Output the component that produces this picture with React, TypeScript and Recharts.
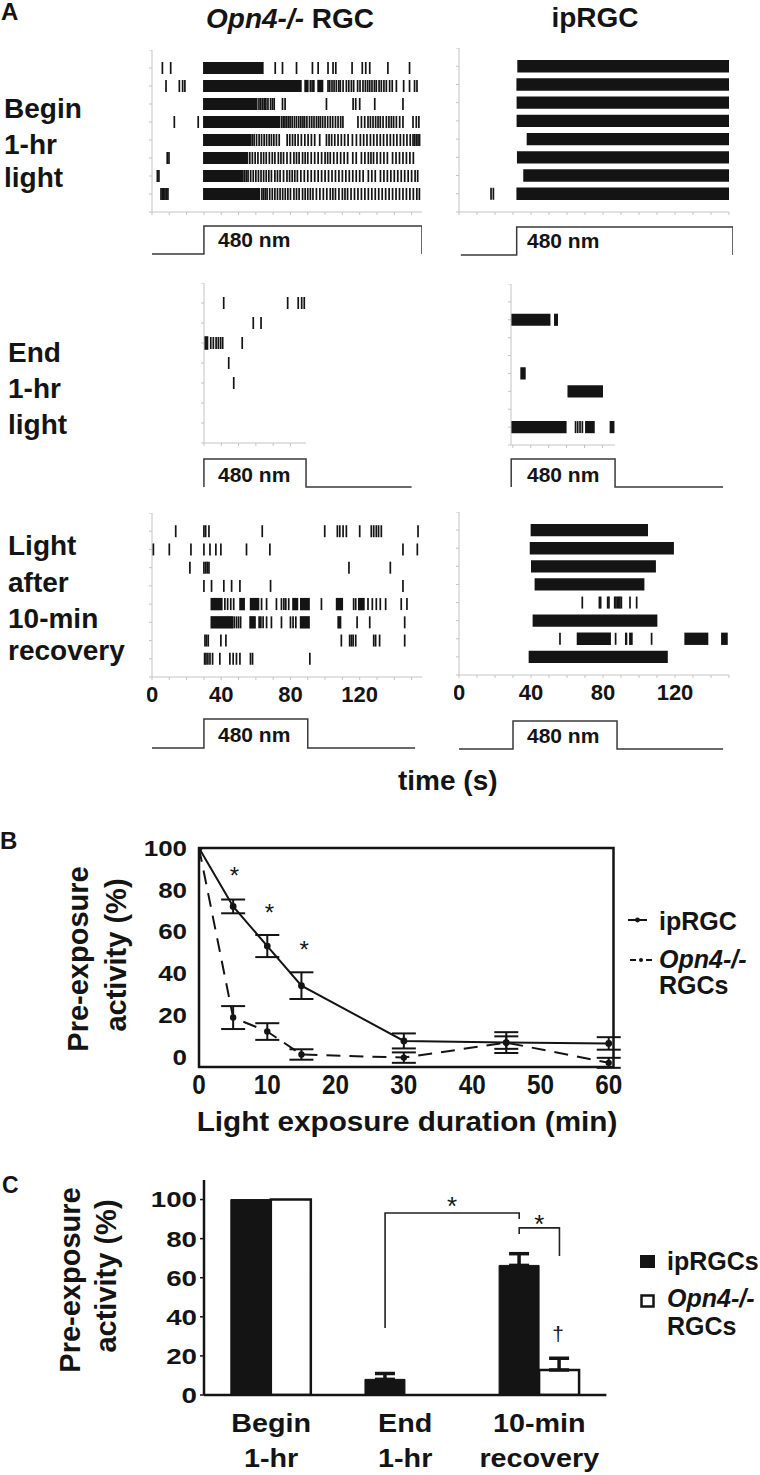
import React from 'react';
import {
  ScatterChart,
  Scatter,
  XAxis,
  YAxis,
  ReferenceArea,
  LineChart,
  Line,
  ComposedChart,
  Bar,
  ErrorBar,
  ReferenceDot,
} from 'recharts';

type Burst = [number, number];

const WIDE = "'Liberation Sans', Arial, Helvetica, sans-serif";
const INK = '#141414';

// ---------- Panel A: spike rasters (seconds), one list per trial row ----------
const leftTicks = [0, 10, 20, 30, 40, 50, 60, 70, 80, 90, 100, 110, 120, 130, 140, 150];
const midTicks = [30, 40, 50, 60, 70, 80];
const timeLabels = [0, 40, 80, 120];

// Opn4-/- RGC, begin of 1-hr light
const opnBeginBursts: Burst[][] = [
  [[29.5, 64.5]],
  [[29.5, 86.5], [88, 90.5], [95.5, 99]],
  [[29.5, 61]],
  [[29.5, 74]],
  [[29.5, 57.4]],
  [[29.5, 55.6]],
  [[29.5, 52]],
  [[29.5, 62.5]],
];
const opnBeginSpikes: number[][] = [
  [6, 10.8, 71.2, 75.4, 83.5, 92.7, 96, 101.7, 104.6, 106.2, 115.6, 121.5, 123.5, 125.8, 136.3, 148.8],
  [8.1, 15.8, 17.7, 19, 91.5, 92.5, 93.5, 101.7, 102.7, 104, 105.2, 106.5, 107.9, 108.8, 110.4, 112.3, 113.7,
    115.2, 116.5, 118.8, 120.2, 121.9, 123.3, 124.6, 125.8, 127.1, 128.5, 129.6, 131.2, 132.5, 134, 135.4, 137.3,
    138.8, 141.2, 145.4, 148.8, 151.7, 153.1],
  [61.8, 62.8, 63.8, 64.8, 65.8, 67, 68.5, 69.6, 70.6, 75.4, 76.9, 100.8, 116.2, 117.7, 120, 128.7, 145],
  [12.9, 26.7, 74.8, 75.8, 76.8, 77.8, 78.8, 79.8, 81, 82.3, 83.5, 84.8, 86, 87.2, 88.2, 89.5, 91, 92.3, 93.6, 95,
    96.2, 97.3, 98.6, 100, 101.5, 103, 104.4, 106, 107.5, 109, 110.3, 119, 121, 122.9, 124.8, 126.2, 127.7, 129.2,
    130.6, 131.9, 133.5, 135.4, 136.9, 138.3, 139.6, 141.2, 143.1, 145, 150.8, 152.7, 154.2],
  [57.9, 59, 60.4, 61.9, 63.3, 64.8, 66.2, 67.7, 69, 70.4, 71.9, 73.5, 78.1, 79.6, 81.2, 82.7, 84.4, 86.3, 88.3,
    90.2, 92.1, 94, 96.9, 100.8, 102.3, 103.8, 105.6, 107.5, 109.4, 111.3, 113.3, 115.8, 118.1, 120.4, 122.3, 124.2,
    126.2, 128.1, 130, 131.9, 133.8, 135.8, 137.7, 139.6, 141.5, 143.5, 145.4, 147.3, 149.2, 150.8, 151.7, 152.7,
    153.7, 154.6],
  [8.8, 9.8, 56.5, 58, 59.6, 61.2, 63, 64.5, 66, 67.8, 69.5, 71, 73, 74.5, 76, 78, 80, 82, 83.5, 85, 87, 88.5, 90,
    92, 94, 96, 98, 100, 101.5, 103, 105, 107, 109, 111, 113, 116, 118, 121, 123, 125, 126.5, 128, 130, 132, 134,
    136, 139, 141, 143, 145, 147, 149, 151],
  [3.1, 4, 52.5, 53.5, 54.5, 55.5, 57, 58.5, 60, 61.5, 63, 64.5, 66, 67.5, 69, 71, 72.5, 74, 76, 78, 79.5, 81, 82.5,
    84, 86, 88, 90, 92, 94, 96, 98, 100, 102, 104, 106, 108, 110, 112, 114, 116, 118, 120, 122, 125, 127, 129, 132,
    134, 136, 138, 140, 142, 144, 146, 148, 150, 152, 153.5],
  [5.2, 6, 6.8, 7.5, 8.3, 9.2, 63.5, 64.5, 65.5, 66.5, 68, 69.5, 71, 72.5, 74, 75.5, 77, 78.5, 80, 82, 83.5, 85, 87,
    88.5, 90, 91.5, 93, 95, 97, 99, 101, 103, 104.5, 106, 108, 110, 111.5, 113, 115, 117, 119, 121, 123, 125, 127,
    129, 131, 133, 135, 137, 139, 141, 143, 145, 147, 149, 151, 153, 154.5],
];

// ipRGC, begin of 1-hr light
const ipBeginBursts: Burst[][] = [
  [[32.4, 150]], [[31.9, 150]], [[32, 150]], [[32, 150]],
  [[37.6, 150]], [[32.2, 150]], [[35.7, 150]], [[31.9, 150]],
];
const ipBeginSpikes: number[][] = [[], [], [], [], [], [], [], [17.8, 19.1]];

// Opn4-/- RGC, end of 1-hr light
const opnEndBursts: Burst[][] = [[], [], [[30, 32.5]], [], [], [], [], []];
const opnEndSpikes: number[][] = [
  [41.4, 78.4, 84.5, 86.5, 88],
  [58.5, 63],
  [33.9, 35.4, 37, 38.3, 39.6, 40.8, 52.1],
  [44.3],
  [47.2],
  [], [], [],
];

// ipRGC, end of 1-hr light
const ipEndBursts: Burst[][] = [
  [],
  [[29, 51], [53, 55.2]],
  [], [],
  [[34.2, 37.2]],
  [[60.5, 80.3]],
  [],
  [[29, 60], [70.3, 75.7], [84, 86.7]],
];
const ipEndSpikes: number[][] = [[], [], [], [], [], [], [], [65, 66.2, 67.5, 68.8]];

// Opn4-/- RGC, light after 10-min recovery
const opnRecBursts: Burst[][] = [
  [], [], [], [],
  [[33.8, 40.8], [50.4, 53.7], [56.5, 62], [81, 84.5], [85.5, 91.2], [106.2, 110.4], [119, 122.9]],
  [[33.8, 46.9], [56.2, 60], [85.4, 91.2], [107.1, 109.4]],
  [], [],
];
const opnRecSpikes: number[][] = [
  [13.7, 30, 31, 32.9, 63.7, 99.8, 107.1, 108.5, 110.4, 112.3, 120, 126.7, 128.1, 129.6, 130.9, 132.5, 153.7],
  [0.8, 10, 22.5, 30, 33.5, 36.9, 39.8, 54.6, 68.1, 145, 153.3],
  [21.9, 30, 31, 31.9, 32.9, 113.8, 137.7],
  [30, 34.4, 41.5, 46, 50.8, 68.5, 145],
  [42.1, 43.7, 45.5, 47.2, 63.3, 66.2, 71.9, 74.8, 76.2, 77.3, 79, 97.9, 116.5, 117.7, 124.8, 127.3, 129.6, 131.9,
    135, 144, 147.3],
  [47.5, 48.8, 50, 51.2, 61.9, 62.9, 64.2, 66.2, 69, 74.8, 80, 81.5, 83.1, 118.5, 125.8, 146],
  [30.6, 31.5, 32.5, 39.8, 42.7, 109.4, 114.2, 115.2, 116.2, 117.7, 128.1, 129.2, 131.5, 146],
  [30.4, 31.2, 32.3, 33.5, 35, 39.2, 45, 46.9, 48.8, 50.8, 56.9, 58.1, 91.2],
];

// ipRGC, light after 10-min recovery
const ipRecBursts: Burst[][] = [
  [[39.8, 105]],
  [[39.3, 119.4]],
  [[40, 109.4]],
  [[42, 103]],
  [],
  [[40.9, 110.2]],
  [[65.4, 84.4], [92.2, 93.5], [94.5, 96.5], [125.2, 138.5], [145.6, 149.3]],
  [[38.7, 116]],
];
const ipRecSpikes: number[][] = [
  [], [], [], [],
  [68.5, 78, 78.7, 82.6, 83.3, 86.5, 87.2, 88, 88.7, 89.4, 90.2, 95, 98.7],
  [],
  [56.1, 87, 107],
  [],
];

// stimulus (480 nm) traces: times (s) and levels (0 dark, 1 light)
const stimLevelsBegin = [0, 0, 1, 1, 0];
const stimTimesBeginL = [0, 30, 30, 156, 156];
const stimTimesBeginR = [1, 32, 32, 152, 152];
const stimLevelsEnd = [0, 1, 1, 0, 0];
const stimTimesEndL = [30, 30, 89, 89, 150];
const stimTimesEndR = [29, 29, 86.7, 86.7, 146.7];
const stimLevelsRec = [0, 0, 1, 1, 0, 0];
const stimTimesRecL = [0, 30, 30, 90, 90, 152];
const stimTimesRecR = [0, 30, 30, 87.8, 87.8, 146.7];

// ---------- Panel B ----------
const bMinutes = [0, 5, 10, 15, 30, 45, 60];
const bIpRGC = [100, 72, 53, 34, 7.5, 6.7, 6.3];
const bIpRGCErr = [null, 3.3, 5.3, 6.4, 3.6, 3, 3];
const bOpn4 = [100, 18.7, 12, 1, -0.5, 6.7, -3];
const bOpn4Err = [null, 5.5, 4, 2.5, 2.5, 5, 2.4];
const bXTicks = [0, 10, 20, 30, 40, 50, 60];
const bYTicks = [0, 20, 40, 60, 80, 100];
const bStars = [
  { m: 5.2, v: 89.5 },
  { m: 10.3, v: 71.8 },
  { m: 15.4, v: 54 },
];

// ---------- Panel C ----------
const cCategories = ['Begin 1-hr', 'End 1-hr', '10-min recovery'];
const cIpRGCs = [100, 8, 66.3];
const cIpRGCsErr = [null, 3, 6];
const cOpn4 = [100, 0, 12.8];
const cOpn4Err = [null, null, 6];
const cYTicks = [0, 20, 40, 60, 80, 100];
// significance brackets: [category, series] -> [category, series], levels in %
const cBrackets = [
  { from: [1, 0], to: [2, 0], yFrom: 34.3, yTop: 93.1, yTo: 90.1 },
  { from: [2, 0], to: [2, 1], yFrom: 82.4, yTop: 85.5, yTo: 71.1 },
];
const cMarks = [
  { x: 1.85, y: 99.8, s: '*' },
  { x: 2.5, y: 90.6, s: '*' },
  { x: 2.64, y: 30.7, s: '†' },
];
const CAT_GAP = 0.2;
const barCenter = (cat: number, series: number) => cat + CAT_GAP + ((1 - 2 * CAT_GAP) / 2) * (series + 0.5);

// ---------- components ----------
type RasterProps = {
  x: number;
  y: number;
  w: number;
  h: number;
  domain: [number, number];
  rows: number;
  spikes: number[][];
  bursts: Burst[][];
  ticks: number[];
  labels?: number[];
};

function Raster({ x, y, w, h, domain, rows, spikes, bursts, ticks, labels }: RasterProps) {
  const pts = spikes.flatMap((row, i) => row.map((t) => ({ t, row: i + 1 })));
  const yTicks = Array.from({ length: rows + 1 }, (_, i) => i);
  const axisH = labels ? 34 : 6;
  const yW = 5;
  return (
    <div style={{ position: 'absolute', left: x - yW, top: y }}>
      <ScatterChart width={w + yW + 3} height={h + axisH} margin={{ top: 0, right: 3, bottom: 0, left: 0 }}>
        <XAxis
          type="number"
          dataKey="t"
          domain={domain}
          ticks={ticks}
          interval={0}
          allowDataOverflow
          height={axisH}
          stroke="#c4c4c4"
          tickSize={3}
          tickMargin={6}
          tickFormatter={(v) => (labels && labels.includes(v) ? String(v) : '')}
          tick={{ fill: INK, fontSize: 22, fontWeight: 900, fontFamily: WIDE }}
        />
        <YAxis
          type="number"
          dataKey="row"
          domain={[0, rows]}
          reversed
          ticks={yTicks}
          interval={0}
          allowDataOverflow
          width={yW}
          stroke="#c4c4c4"
          tickSize={3}
          tickFormatter={() => ''}
        />
        {bursts.flatMap((row, i) =>
          row.map(([a, b], j) => (
            <ReferenceArea
              key={`${i}-${j}`}
              x1={a}
              x2={b}
              y1={i + 1 - 0.34}
              y2={i + 1 + 0.34}
              fill={INK}
              fillOpacity={1}
              stroke="none"
            />
          ))
        )}
        <Scatter
          data={pts}
          isAnimationActive={false}
          shape={(p: any) => (
            <line x1={p.cx} x2={p.cx} y1={p.cy - 6} y2={p.cy + 6} stroke="#141414" strokeWidth={1.7} />
          )}
        />
      </ScatterChart>
    </div>
  );
}

type StimProps = { x: number; w: number; hi: number; lo: number; domain: [number, number]; times: number[]; levels: number[] };

function Stim({ x, w, hi, lo, domain, times, levels }: StimProps) {
  const data = times.map((t, i) => ({ t, v: levels[i] }));
  return (
    <div style={{ position: 'absolute', left: x - 2, top: hi - 2 }}>
      <LineChart width={w + 4} height={lo - hi + 4} data={data} margin={{ top: 2, right: 2, bottom: 2, left: 2 }}>
        <XAxis type="number" dataKey="t" domain={domain} hide allowDataOverflow />
        <YAxis type="number" domain={[0, 1]} hide />
        <Line dataKey="v" type="linear" dot={false} stroke="#3a3a3a" strokeWidth={1.5} isAnimationActive={false} />
      </LineChart>
    </div>
  );
}

const bData = bMinutes.map((m, i) => ({
  m,
  ip: bIpRGC[i],
  ipErr: bIpRGCErr[i],
  opn: bOpn4[i],
  opnErr: bOpn4Err[i],
}));

const cData = cCategories.map((c, i) => ({
  c,
  ip: cIpRGCs[i],
  ipErr: cIpRGCsErr[i] == null ? null : [0, cIpRGCsErr[i]],
  opn: cOpn4[i],
  opnErr: cOpn4Err[i] == null ? null : [0, cOpn4Err[i]],
}));

// bracket paths, one column per bracket (gaps keep them apart)
const cBracketRows = cBrackets.flatMap((b, i) => {
  const x1 = barCenter(b.from[0], b.from[1]);
  const x2 = barCenter(b.to[0], b.to[1]);
  const k = `b${i}`;
  return [
    { x: x1, [k]: b.yFrom },
    { x: x1, [k]: b.yTop },
    { x: x2, [k]: b.yTop },
    { x: x2, [k]: b.yTo },
  ];
});

const markShape = (s: string, fs: number, lift: number) => (p: any) => (
  <text x={p.cx} y={p.cy + lift * fs} textAnchor="middle" fontSize={fs} fontFamily={WIDE} fill={INK} stroke="none">
    {s}
  </text>
);

const stretchTick = (fs: number, sx: number, anchor: 'middle' | 'end', dy: string) => (props: any) => {
  const { x, y, payload } = props;
  return (
    <text
      transform={`translate(${x},${y}) scale(${sx},1)`}
      textAnchor={anchor}
      dy={dy}
      fontSize={fs}
      fontWeight="bold"
      fontFamily={WIDE}
      fill={INK}
    >
      {payload.value}
    </text>
  );
};

const CTick = (props: any) => {
  const { x, y, payload } = props;
  const [first, ...rest] = String(payload.value).split(' ');
  return (
    <text
      transform={`translate(${x},${y}) scale(1.15,1)`}
      textAnchor="middle"
      fontFamily={WIDE}
      fontWeight="bold"
      fontSize={25}
      fill={INK}
    >
      <tspan x={0} y={29}>{first}</tspan>
      <tspan x={0} y={64}>{rest.join(' ')}</tspan>
    </text>
  );
};

const B_LEFT = 198.7;
const B_TOP = 848;
const B_W = 414.5;
const B_H = 219;

function PanelB() {
  const yW = 70;
  const mt = 14;
  return (
    <div style={{ position: 'absolute', left: B_LEFT - yW, top: B_TOP - mt }}>
      <ComposedChart width={yW + B_W + 18} height={mt + B_H + 40} data={bData} margin={{ top: mt, right: 18, bottom: 0, left: 0 }}>
        <XAxis
          type="number"
          dataKey="m"
          domain={[0, 60.7]}
          ticks={bXTicks}
          interval={0}
          allowDataOverflow
          axisLine={false}
          tickLine={false}
          tickSize={4}
          tickMargin={4}
          height={40}
          tick={stretchTick(27, 0.9, 'middle', '0.71em')}
        />
        <YAxis
          type="number"
          domain={[-5, 100]}
          ticks={bYTicks}
          interval={0}
          allowDataOverflow
          axisLine={false}
          tickLine={false}
          tickSize={4}
          tickMargin={8}
          width={yW}
          tick={stretchTick(22, 1.18, 'end', '0.36em')}
        />
        <ReferenceArea x1={0} x2={60.7} y1={-5} y2={100} fill="none" stroke={INK} strokeWidth={2.5} />
        <Line
          dataKey="opn"
          type="linear"
          stroke={INK}
          strokeWidth={2}
          strokeDasharray="14 9"
          dot={{ r: 2.2, fill: INK, stroke: INK, strokeDasharray: '' }}
          isAnimationActive={false}
        >
          <ErrorBar dataKey="opnErr" width={12} stroke={INK} strokeWidth={2} direction="y" />
        </Line>
        <Line
          dataKey="ip"
          type="linear"
          stroke={INK}
          strokeWidth={2}
          dot={{ r: 2.4, fill: INK, stroke: INK }}
          isAnimationActive={false}
        >
          <ErrorBar dataKey="ipErr" width={12} stroke={INK} strokeWidth={2} direction="y" />
        </Line>
        {bStars.map((s, i) => (
          <ReferenceDot key={i} x={s.m} y={s.v} r={0} shape={markShape('*', 24, 0.58)} />
        ))}
      </ComposedChart>
    </div>
  );
}

const C_LEFT = 203.6;
const C_TOP = 1180;
const C_W = 402.4;
const C_H = 215;
const C_YW = 70;
const C_MT = 5;
const C_MR = 22;
const C_XH = 80;

function PanelC() {
  return (
    <>
      <div style={{ position: 'absolute', left: C_LEFT - C_YW, top: C_TOP - C_MT }}>
        <ComposedChart
          width={C_YW + C_W + C_MR}
          height={C_MT + C_H + C_XH}
          data={cData}
          margin={{ top: C_MT, right: C_MR, bottom: 0, left: 0 }}
          barCategoryGap={`${CAT_GAP * 100}%`}
          barGap={0}
        >
          <XAxis
            dataKey="c"
            interval={0}
            axisLine={{ stroke: INK, strokeWidth: 2.5 }}
            tickLine={false}
            height={C_XH}
            tick={<CTick />}
          />
          <YAxis
            type="number"
            domain={[0, 110]}
            ticks={cYTicks}
            interval={0}
            allowDataOverflow
            axisLine={{ stroke: INK, strokeWidth: 2.5 }}
            tickLine={{ stroke: INK, strokeWidth: 1.5 }}
            tickSize={4}
            tickMargin={3}
            width={C_YW}
            tick={stretchTick(22, 1.26, 'end', '0.36em')}
          />
          <Bar dataKey="ip" fill={INK} stroke={INK} strokeWidth={1} isAnimationActive={false}>
            <ErrorBar dataKey="ipErr" width={10} stroke={INK} strokeWidth={3.5} direction="y" />
          </Bar>
          <Bar dataKey="opn" fill="#ffffff" stroke={INK} strokeWidth={2.5} isAnimationActive={false}>
            <ErrorBar dataKey="opnErr" width={10} stroke={INK} strokeWidth={3.5} direction="y" />
          </Bar>
        </ComposedChart>
      </div>
      {/* significance brackets and marks on a matching numeric overlay */}
      <div style={{ position: 'absolute', left: C_LEFT - C_YW, top: C_TOP - C_MT }}>
        <LineChart
          width={C_YW + C_W + C_MR}
          height={C_MT + C_H + C_XH}
          data={cBracketRows}
          margin={{ top: C_MT, right: C_MR, bottom: 0, left: 0 }}
        >
          <XAxis type="number" dataKey="x" domain={[0, 3]} allowDataOverflow height={C_XH} axisLine={false} tickLine={false} tick={false} />
          <YAxis type="number" domain={[0, 110]} allowDataOverflow width={C_YW} axisLine={false} tickLine={false} tick={false} />
          {cBrackets.map((_, i) => (
            <Line key={i} dataKey={`b${i}`} type="linear" stroke="#222" strokeWidth={1.6} dot={false} isAnimationActive={false} />
          ))}
          {cMarks.map((m, i) => (
            <ReferenceDot
              key={i}
              x={m.x}
              y={m.y}
              r={0}
              shape={m.s === '*' ? markShape('*', 26, 0.58) : markShape('†', 21, 0.3)}
            />
          ))}
        </LineChart>
      </div>
    </>
  );
}

const T = (p: { x: number; y: number; fs: number; children: React.ReactNode; anchor?: string; italic?: boolean; sx?: number }) => (
  <text
    transform={`translate(${p.x},${p.y}) scale(${p.sx || 1},1)`}
    fontSize={p.fs}
    fontWeight="bold"
    fontFamily={WIDE}
    fontStyle={p.italic ? 'italic' : 'normal'}
    textAnchor={(p.anchor as any) || 'start'}
    fill={INK}
  >
    {p.children}
  </text>
);

const VT = (p: { x: number; y: number; children: React.ReactNode }) => (
  <text
    transform={`translate(${p.x},${p.y}) rotate(-90)`}
    textAnchor="middle"
    dominantBaseline="central"
    fontSize={29}
    fontWeight="bold"
    fontFamily={WIDE}
    fill={INK}
  >
    {p.children}
  </text>
);

export default function App() {
  return (
    <div style={{ position: 'absolute', left: 0, top: 0, width: 760, height: 1475, background: '#fff', overflow: 'hidden' }}>
      {/* Panel A rasters */}
      <Raster x={152} y={50} w={270} h={162} domain={[0, 156]} rows={9} spikes={opnBeginSpikes} bursts={opnBeginBursts} ticks={leftTicks} />
      <Raster x={459} y={48} w={270} h={164} domain={[0, 150]} rows={9} spikes={ipBeginSpikes} bursts={ipBeginBursts} ticks={leftTicks} />
      <Raster x={204} y={283} w={102} h={160} domain={[30, 89]} rows={8} spikes={opnEndSpikes} bursts={opnEndBursts} ticks={midTicks} />
      <Raster x={511} y={284} w={104} h={161} domain={[29, 87]} rows={9} spikes={ipEndSpikes} bursts={ipEndBursts} ticks={midTicks} />
      <Raster x={152} y={513} w={270} h={164} domain={[0, 156]} rows={9} spikes={opnRecSpikes} bursts={opnRecBursts} ticks={leftTicks} labels={timeLabels} />
      <Raster x={459} y={512} w={270} h={163} domain={[0, 150]} rows={9} spikes={ipRecSpikes} bursts={ipRecBursts} ticks={leftTicks} labels={timeLabels} />

      {/* stimulus traces */}
      <Stim x={152} w={270} hi={226} lo={254} domain={[0, 156]} times={stimTimesBeginL} levels={stimLevelsBegin} />
      <Stim x={459} w={274} hi={227} lo={255} domain={[0, 152]} times={stimTimesBeginR} levels={stimLevelsBegin} />
      <Stim x={152} w={270} hi={459} lo={487} domain={[0, 156]} times={stimTimesEndL} levels={stimLevelsEnd} />
      <Stim x={459} w={270} hi={459} lo={487} domain={[0, 150]} times={stimTimesEndR} levels={stimLevelsEnd} />
      <Stim x={152} w={270} hi={719} lo={748} domain={[0, 156]} times={stimTimesRecL} levels={stimLevelsRec} />
      <Stim x={459} w={270} hi={721} lo={749} domain={[0, 150]} times={stimTimesRecR} levels={stimLevelsRec} />

      <PanelB />
      <PanelC />

      <svg width={760} height={1475} style={{ position: 'absolute', left: 0, top: 0, pointerEvents: 'none' }}>
        <T x={1} y={20} fs={24}>A</T>
        <T x={290} y={28} fs={28} anchor="middle">
          <tspan fontStyle="italic">Opn4-/-</tspan> RGC
        </T>
        <T x={595} y={27} fs={28} anchor="middle">ipRGC</T>

        <T x={4} y={118} fs={28}>Begin</T>
        <T x={4} y={154} fs={28}>1-hr</T>
        <T x={4} y={187} fs={28}>light</T>
        <T x={8} y={362} fs={28}>End</T>
        <T x={8} y={398} fs={28}>1-hr</T>
        <T x={8} y={434} fs={28}>light</T>
        <T x={8} y={555} fs={28}>Light</T>
        <T x={8} y={592} fs={28}>after</T>
        <T x={8} y={628} fs={28}>10-min</T>
        <T x={8} y={660} fs={28}>recovery</T>

        <T x={218} y={247} fs={21}>480 nm</T>
        <T x={527} y={248} fs={21}>480 nm</T>
        <T x={218} y={482} fs={21}>480 nm</T>
        <T x={527} y={482} fs={21}>480 nm</T>
        <T x={218} y={742} fs={21}>480 nm</T>
        <T x={527} y={743} fs={21}>480 nm</T>
        <T x={398} y={790} fs={28}>time (s)</T>

        <T x={0} y={849} fs={24}>B</T>
        <VT x={77.5} y={959}>Pre-exposure</VT>
        <VT x={116} y={955}>activity (%)</VT>
        <T x={407} y={1131} fs={27} anchor="middle" sx={1.1}>Light exposure duration (min)</T>
        <line x1={628} x2={647} y1={920} y2={920} stroke={INK} strokeWidth={2} />
        <circle cx={637.5} cy={920} r={2.4} fill={INK} />
        <line x1={630} x2={636} y1={960} y2={960} stroke={INK} strokeWidth={2} />
        <line x1={646} x2={652} y1={960} y2={960} stroke={INK} strokeWidth={2} />
        <circle cx={641} cy={960} r={2} fill={INK} />
        <T x={659} y={930} fs={25}>ipRGC</T>
        <T x={659} y={968} fs={25} italic>Opn4-/-</T>
        <T x={659} y={994} fs={25}>RGCs</T>

        <T x={2} y={1193} fs={23}>C</T>
        <VT x={70} y={1280}>Pre-exposure</VT>
        <VT x={105.5} y={1276}>activity (%)</VT>
        <rect x={640} y={1255} width={15} height={13} fill={INK} />
        <rect x={641.5} y={1295.5} width={12} height={11} fill="#fff" stroke={INK} strokeWidth={2.5} />
        <T x={667} y={1270} fs={25}>ipRGCs</T>
        <T x={667} y={1307} fs={25} italic>Opn4-/-</T>
        <T x={667} y={1335} fs={25}>RGCs</T>
      </svg>
    </div>
  );
}
